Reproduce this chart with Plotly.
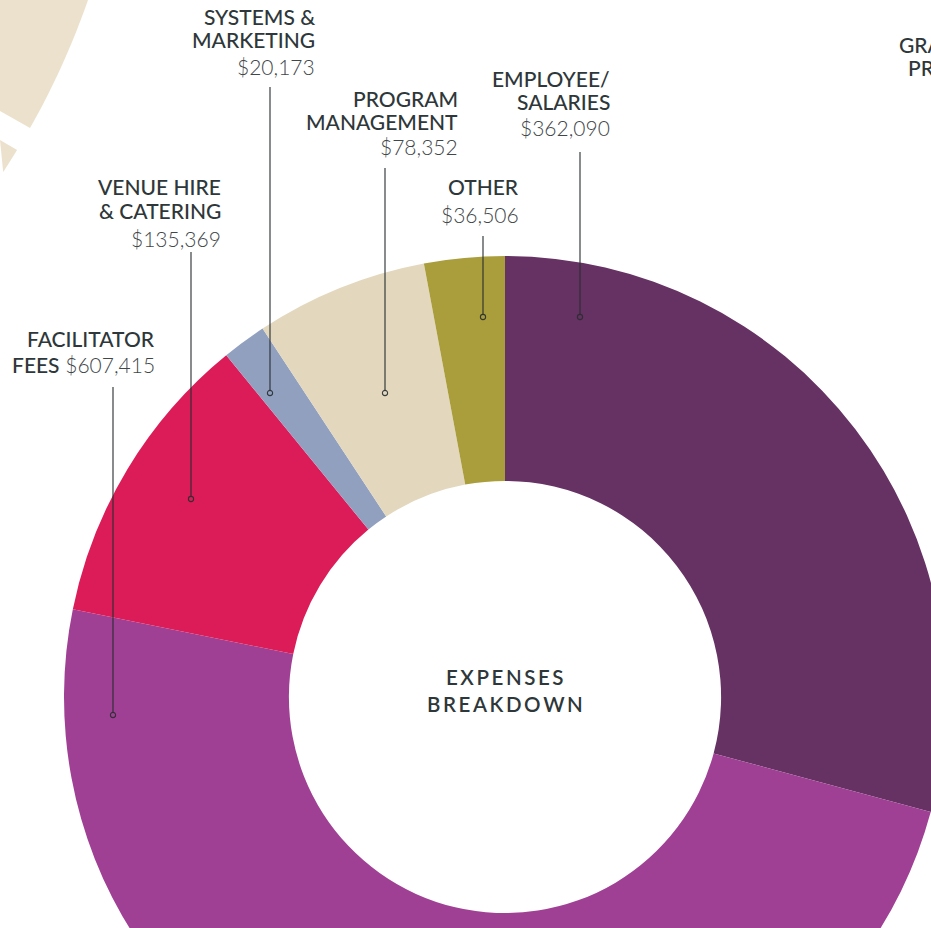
import math
import plotly.graph_objects as go

# ---------------- data (clockwise from 12 o'clock) ----------------
categories = ["EMPLOYEE/SALARIES", "FACILITATOR FEES", "VENUE HIRE & CATERING",
              "SYSTEMS & MARKETING", "PROGRAM MANAGEMENT", "OTHER"]
values = [362090, 607415, 135369, 20173, 78352, 36506]
colors = ["#663163", "#A04094", "#DC1C58", "#92A0C0", "#E3D8BE", "#AA9D3B"]

# label text lines (name lines)
label_names = [["EMPLOYEE/", "SALARIES"], ["FACILITATOR"], ["VENUE HIRE", "& CATERING"],
               ["SYSTEMS &", "MARKETING"], ["PROGRAM", "MANAGEMENT"], ["OTHER"]]
center_title = ["EXPENSES", "BREAKDOWN"]

# ---------------- layout helpers (pixel geometry of the page) ----------------
W, H = 1000, 1200
CX, CY, R = 505, 697, 441
HOLE = 0.49

def px(x):
    return x / W

def py(y):
    return 1 - y / H

DARK = "#2E3739"
GREY = "#3F4749"
NAME_FONT = dict(family="Lato", size=21, color=DARK, weight=500)
VAL_FONT = dict(family="Lato", size=21, color=GREY, weight=300)

fig = go.Figure()
fig.add_trace(go.Pie(
    labels=categories, values=values, sort=False, direction="clockwise",
    rotation=0, hole=HOLE, textinfo="none", hoverinfo="label+value",
    marker=dict(colors=colors, line=dict(width=0)),
    domain=dict(x=[px(CX - R), px(CX + R)], y=[py(CY + R), py(CY - R)]),
))

def fmt(v):
    return "${:,}".format(v)

# label placements: (right edge x, y centres of name lines, y of value line, leader x, leader top, dot y)
placements = {
    "OTHER": (521, [187], 214, 483, 236, 317),
    "PROGRAM MANAGEMENT": (460, [98, 121], 146, 385, 168, 393),
    "SYSTEMS & MARKETING": (317, [17, 40], 66, 270, 87, 393),
    "VENUE HIRE & CATERING": (223, [187, 210], 238, 191, 252, 499),
    "EMPLOYEE/SALARIES": (612, [79, 102], 127, 580, 152, 317),
}

annotations = []
shapes = []
for cat, names, val in zip(categories, label_names, values):
    if cat == "FACILITATOR FEES":
        annotations.append(dict(x=px(157), y=py(338), text=names[0], font=NAME_FONT,
                                xanchor="right", yanchor="middle"))
        annotations.append(dict(x=px(157), y=py(364),
                                text="<span style='font-weight:500;color:%s'>FEES</span> %s" % (DARK, fmt(val)),
                                font=VAL_FONT, xanchor="right", yanchor="middle"))
        lx, ltop, ldot = 113, 387, 715
    else:
        rx, ys, vy, lx, ltop, ldot = placements[cat]
        for t, yy in zip(names, ys):
            annotations.append(dict(x=px(rx), y=py(yy), text=t, font=NAME_FONT,
                                    xanchor="right", yanchor="middle"))
        annotations.append(dict(x=px(rx), y=py(vy), text=fmt(val), font=VAL_FONT,
                                xanchor="right", yanchor="middle"))
    shapes.append(dict(type="line", xref="paper", yref="paper",
                       x0=px(lx), x1=px(lx), y0=py(ltop), y1=py(ldot - 2.5),
                       line=dict(color="rgba(40,46,48,0.85)", width=1.3), layer="above"))
    shapes.append(dict(type="circle", xref="paper", yref="paper",
                       x0=px(lx - 2.6), x1=px(lx + 2.6), y0=py(ldot - 2.6), y1=py(ldot + 2.6),
                       line=dict(color="rgba(40,46,48,0.9)", width=1.1),
                       fillcolor="rgba(0,0,0,0)", layer="above"))

for t, yy in zip(center_title, [677, 704]):
    annotations.append(dict(x=px(CX), y=py(yy), text="\u2009".join(t),
                            font=dict(family="Lato", size=20.5, color=DARK, weight=600),
                            xanchor="center", yanchor="middle"))

# neighbouring (cut-off) chart's label at top right
for t, xx, yy in [("GRANTS", 897, 45), ("PROGRAM", 906, 68), ("$", 928, 92)]:
    annotations.append(dict(x=px(xx), y=py(yy), text=t,
                            font=NAME_FONT if t != "$" else VAL_FONT,
                            xanchor="left", yanchor="middle"))

for a in annotations:
    a.update(xref="paper", yref="paper", showarrow=False)

# neighbouring (cut-off) chart's ring at top left
ocx, ocy, orr = -646, -255, 777
def arc(y_from, y_to, n=12):
    pts = []
    for i in range(n + 1):
        yy = y_from + (y_to - y_from) * i / n
        xx = ocx + math.sqrt(orr ** 2 - (yy - ocy) ** 2)
        pts.append((xx, yy))
    return pts

p1 = [(0, 0)] + arc(0, 128) + [(0, 111)]
p2 = [(0, 140)] + arc(150, 172)
for poly in (p1, p2):
    d = "M " + " L ".join("%.4f,%.4f" % (px(x), py(y)) for x, y in poly) + " Z"
    shapes.append(dict(type="path", xref="paper", yref="paper", path=d,
                       fillcolor="#ECE1CD", line=dict(width=0), layer="below"))

fig.update_layout(
    width=W, height=H, margin=dict(l=0, r=0, t=0, b=0),
    paper_bgcolor="white", plot_bgcolor="white", showlegend=False,
    annotations=annotations, shapes=shapes,
)

fig.write_html("out.html", post_script=(
    "document.body.style.margin='0';"
    "document.body.style.overflow='hidden';"
    "document.documentElement.style.overflow='hidden';"
))
